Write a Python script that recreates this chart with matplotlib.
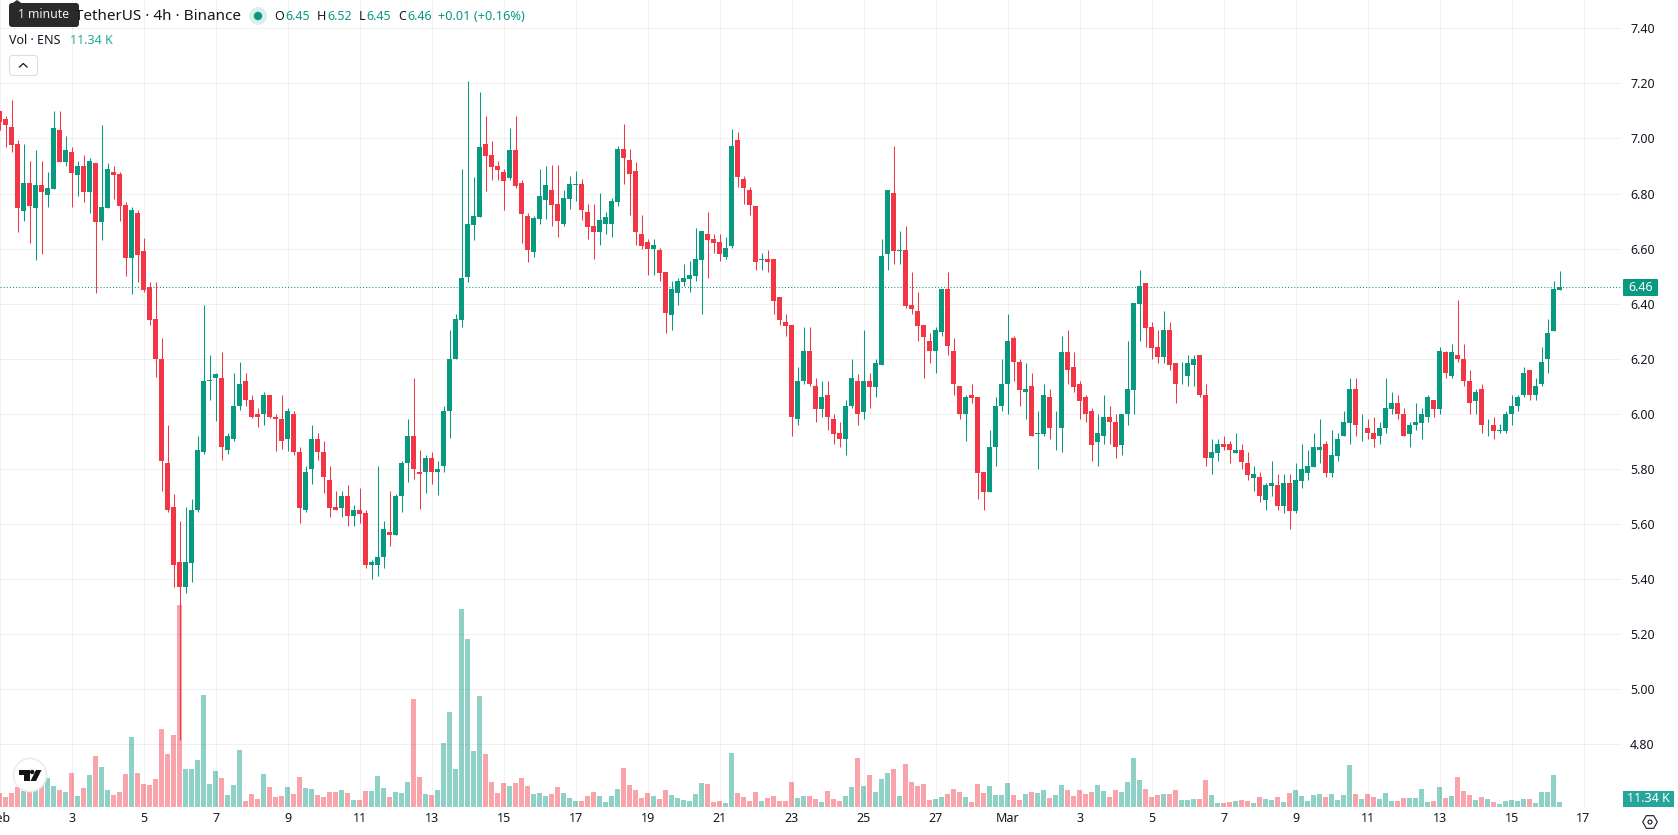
import numpy as np
import matplotlib
matplotlib.use('Agg')
import matplotlib.pyplot as plt
from matplotlib.patches import Circle, FancyBboxPatch, Polygon, Rectangle, RegularPolygon

plt.rcParams['font.family'] = ['Noto Sans', 'DejaVu Sans']

# ENS/USDT 4h candles, first bar is Feb 1 00:00
opens = [
    7.10, 7.07, 7.04, 6.98, 6.737, 6.838, 6.748, 6.83, 6.795, 6.817,
    7.03, 6.915, 6.95, 6.868, 6.90, 6.806, 6.91, 6.697, 6.748, 6.878,
    6.87, 6.758, 6.566, 6.728, 6.59, 6.462, 6.343, 6.20, 5.823, 5.663,
    5.463, 5.37, 5.46, 5.65, 5.86, 6.12, 6.13, 6.132, 5.868, 5.908,
    6.028, 6.121, 6.052, 6.00, 5.998, 6.07, 5.99, 5.983, 5.908, 6.00,
    5.863, 5.65, 5.799, 5.91, 5.863, 5.761, 5.663, 5.66, 5.703, 5.628,
    5.652, 5.641, 5.45, 5.45, 5.479, 5.572, 5.559, 5.70, 5.82, 5.921,
    5.79, 5.788, 5.841, 5.788, 5.81, 6.01, 6.199, 6.341, 6.497, 6.685,
    6.715, 6.98, 6.94, 6.90, 6.878, 6.857, 6.958, 6.838, 6.718, 6.588,
    6.708, 6.777, 6.812, 6.761, 6.688, 6.779, 6.83, 6.834, 6.732, 6.681,
    6.659, 6.688, 6.688, 6.768, 6.961, 6.921, 6.881, 6.652, 6.623, 6.598,
    6.594, 6.514, 6.358, 6.438, 6.478, 6.488, 6.499, 6.558, 6.652, 6.634,
    6.623, 6.568, 6.608, 6.994, 6.852, 6.812, 6.754, 6.558, 6.561, 6.561,
    6.423, 6.332, 6.321, 5.981, 6.118, 6.23, 6.103, 6.019, 6.07, 5.983,
    5.932, 5.907, 6.027, 6.121, 6.008, 6.121, 6.099, 6.179, 6.579, 6.801,
    6.59, 6.594, 6.394, 6.372, 6.321, 6.263, 6.227, 6.299, 6.452, 6.23,
    6.103, 5.998, 6.07, 6.063, 5.79, 5.718, 5.878, 6.027, 6.107, 6.274,
    6.19, 6.078, 6.103, 5.928, 5.928, 6.063, 5.94, 5.947, 6.223, 6.172,
    6.11, 6.063, 6.012, 5.899, 5.919, 5.99, 5.972, 5.888, 5.998, 6.088,
    6.398, 6.474, 6.314, 6.241, 6.208, 6.303, 6.183, 6.118, 6.139, 6.179,
    6.212, 6.07, 5.838, 5.859, 5.892, 5.892, 5.859, 5.87, 5.823, 5.768,
    5.772, 5.688, 5.739, 5.743, 5.667, 5.75, 5.648, 5.758, 5.787, 5.808,
    5.867, 5.892, 5.787, 5.848, 5.918, 5.968, 6.092, 5.947, 5.95, 5.932,
    5.918, 5.947, 6.019, 6.041, 6.001, 5.928, 5.958, 5.968, 5.987, 6.052,
    6.019, 6.223, 6.139, 6.212, 6.201, 6.121, 6.048, 6.092, 5.958, 5.961,
    5.939, 5.939, 5.998, 6.027, 6.067, 6.161, 6.067, 6.107, 6.198, 6.30,
    6.45,
]
highs = [
    7.10, 7.08, 7.14, 6.996, 6.98, 6.918, 6.958, 6.918, 6.878, 7.10,
    7.10, 7.008, 6.968, 6.918, 6.94, 6.93, 6.91, 7.05, 6.91, 6.90,
    6.878, 6.77, 6.75, 6.74, 6.637, 6.48, 6.48, 6.274, 5.96, 5.71,
    5.612, 5.663, 5.692, 5.92, 6.394, 6.212, 6.15, 6.223, 5.932, 6.15,
    6.19, 6.15, 6.07, 6.023, 6.08, 6.07, 6.00, 6.07, 6.023, 6.012,
    5.881, 5.812, 5.961, 5.932, 5.903, 5.812, 5.721, 5.721, 5.743, 5.67,
    5.732, 5.652, 5.47, 5.812, 5.612, 5.721, 5.71, 5.83, 5.983, 6.132,
    5.87, 5.852, 5.863, 5.83, 6.03, 6.303, 6.361, 6.888, 7.208, 6.86,
    7.168, 7.08, 6.99, 6.92, 6.888, 7.038, 7.08, 6.848, 6.728, 6.718,
    6.888, 6.90, 6.903, 6.903, 6.812, 6.863, 6.881, 6.852, 6.761, 6.761,
    6.801, 6.732, 6.783, 6.972, 7.052, 6.961, 6.914, 6.721, 6.634, 6.634,
    6.601, 6.514, 6.481, 6.492, 6.543, 6.554, 6.674, 6.663, 6.732, 6.652,
    6.652, 6.641, 7.034, 7.023, 6.863, 6.823, 6.754, 6.583, 6.594, 6.561,
    6.423, 6.361, 6.321, 6.172, 6.314, 6.314, 6.132, 6.121, 6.121, 6.001,
    5.972, 6.052, 6.201, 6.143, 6.303, 6.15, 6.201, 6.634, 6.812, 6.972,
    6.663, 6.681, 6.514, 6.441, 6.321, 6.292, 6.314, 6.452, 6.514, 6.274,
    6.103, 6.07, 6.11, 6.063, 5.79, 5.943, 6.063, 6.201, 6.361, 6.281,
    6.201, 6.183, 6.15, 6.012, 6.11, 6.092, 6.012, 6.281, 6.303, 6.223,
    6.121, 6.07, 6.023, 6.001, 6.07, 6.03, 6.001, 6.001, 6.263, 6.401,
    6.521, 6.474, 6.332, 6.303, 6.372, 6.332, 6.183, 6.19, 6.212, 6.212,
    6.212, 6.11, 5.91, 5.91, 5.921, 5.903, 5.932, 5.892, 5.863, 5.812,
    5.79, 5.75, 5.83, 5.783, 5.783, 5.783, 5.823, 5.892, 5.87, 5.932,
    5.983, 5.903, 5.943, 5.932, 6.012, 6.132, 6.132, 6.001, 5.983, 5.99,
    5.972, 6.132, 6.081, 6.07, 6.023, 5.972, 6.041, 6.023, 6.07, 6.052,
    6.241, 6.23, 6.252, 6.412, 6.252, 6.161, 6.092, 6.11, 5.983, 5.99,
    5.965, 6.012, 6.07, 6.07, 6.172, 6.161, 6.132, 6.241, 6.343, 6.481,
    6.52,
]
lows = [
    7.03, 6.97, 6.95, 6.66, 6.70, 6.62, 6.56, 6.58, 6.75, 6.817,
    6.915, 6.90, 6.75, 6.79, 6.77, 6.73, 6.44, 6.63, 6.748, 6.78,
    6.70, 6.50, 6.435, 6.48, 6.442, 6.322, 6.133, 5.72, 5.642, 5.373,
    4.816, 5.35, 5.39, 5.642, 5.853, 6.052, 5.973, 5.832, 5.853, 5.903,
    6.013, 6.03, 5.985, 5.952, 5.96, 5.985, 5.864, 5.872, 5.864, 5.852,
    5.602, 5.642, 5.744, 5.832, 5.712, 5.624, 5.65, 5.624, 5.592, 5.592,
    5.602, 5.442, 5.402, 5.413, 5.442, 5.522, 5.559, 5.642, 5.751, 5.762,
    5.653, 5.712, 5.744, 5.704, 5.79, 5.911, 6.199, 6.315, 6.48, 6.63,
    6.715, 6.81, 6.848, 6.85, 6.74, 6.848, 6.82, 6.62, 6.552, 6.57,
    6.69, 6.708, 6.682, 6.641, 6.682, 6.743, 6.772, 6.703, 6.634, 6.561,
    6.612, 6.652, 6.641, 6.754, 6.834, 6.721, 6.612, 6.60, 6.503, 6.503,
    6.481, 6.292, 6.303, 6.394, 6.463, 6.441, 6.481, 6.361, 6.492, 6.583,
    6.554, 6.561, 6.601, 6.823, 6.761, 6.721, 6.521, 6.521, 6.514, 6.361,
    6.321, 6.281, 5.921, 5.961, 6.11, 6.103, 5.972, 5.99, 5.943, 5.892,
    5.881, 5.852, 6.023, 5.961, 5.983, 6.023, 6.063, 6.179, 6.521, 6.543,
    6.543, 6.383, 6.361, 6.263, 6.132, 6.183, 6.15, 6.281, 6.212, 6.07,
    5.983, 5.903, 6.041, 5.692, 5.652, 5.718, 5.812, 6.012, 6.001, 6.121,
    6.03, 5.983, 5.918, 5.801, 5.921, 5.91, 5.87, 5.863, 6.11, 6.081,
    5.983, 5.972, 5.83, 5.812, 5.892, 5.892, 5.841, 5.852, 5.961, 6.001,
    6.263, 6.241, 6.201, 6.183, 6.183, 6.161, 6.041, 6.11, 6.103, 6.103,
    6.063, 5.812, 5.783, 5.83, 5.87, 5.823, 5.859, 5.801, 5.761, 5.721,
    5.681, 5.652, 5.703, 5.652, 5.641, 5.583, 5.641, 5.732, 5.761, 5.808,
    5.823, 5.772, 5.772, 5.83, 5.918, 5.892, 5.921, 5.903, 5.91, 5.881,
    5.892, 5.932, 6.001, 5.983, 5.918, 5.881, 5.943, 5.91, 5.972, 5.99,
    6.001, 6.132, 6.132, 6.19, 6.103, 6.001, 6.001, 5.932, 5.921, 5.91,
    5.932, 5.932, 5.961, 6.012, 6.063, 6.052, 6.052, 6.103, 6.15, 6.30,
    6.45,
]
closes = [
    7.06, 7.05, 6.977, 6.748, 6.838, 6.755, 6.83, 6.806, 6.82, 7.038,
    6.915, 6.958, 6.875, 6.90, 6.806, 6.918, 6.697, 6.75, 6.888, 6.867,
    6.755, 6.566, 6.74, 6.577, 6.45, 6.34, 6.20, 5.828, 5.65, 5.45,
    5.37, 5.463, 5.652, 5.87, 6.12, 6.122, 6.143, 5.879, 5.921, 6.03,
    6.11, 6.05, 5.988, 5.988, 6.07, 5.988, 5.98, 5.90, 6.012, 5.86,
    5.66, 5.79, 5.91, 5.861, 5.77, 5.66, 5.65, 5.703, 5.628, 5.652,
    5.638, 5.45, 5.463, 5.481, 5.583, 5.559, 5.703, 5.823, 5.921, 5.799,
    5.78, 5.841, 5.788, 5.801, 6.012, 6.201, 6.343, 6.492, 6.688, 6.718,
    6.968, 6.937, 6.897, 6.885, 6.846, 6.958, 6.828, 6.726, 6.595, 6.71,
    6.79, 6.83, 6.758, 6.70, 6.783, 6.834, 6.834, 6.739, 6.678, 6.659,
    6.703, 6.714, 6.772, 6.961, 6.928, 6.87, 6.659, 6.608, 6.598, 6.612,
    6.51, 6.368, 6.452, 6.481, 6.492, 6.503, 6.561, 6.663, 6.63, 6.619,
    6.579, 6.601, 6.972, 6.859, 6.819, 6.758, 6.55, 6.561, 6.55, 6.41,
    6.341, 6.318, 5.988, 6.121, 6.23, 6.107, 6.019, 6.063, 5.988, 5.928,
    5.907, 6.03, 6.132, 5.998, 6.121, 6.099, 6.183, 6.572, 6.812, 6.59,
    6.594, 6.39, 6.379, 6.318, 6.278, 6.227, 6.303, 6.452, 6.248, 6.107,
    5.998, 6.063, 6.059, 5.787, 5.718, 5.881, 6.03, 6.11, 6.263, 6.187,
    6.088, 6.092, 5.918, 5.932, 6.07, 5.947, 5.943, 6.223, 6.158, 6.099,
    6.048, 5.998, 5.888, 5.932, 5.99, 5.97, 5.878, 6.001, 6.092, 6.401,
    6.463, 6.31, 6.238, 6.208, 6.303, 6.179, 6.107, 6.121, 6.183, 6.201,
    6.067, 5.838, 5.863, 5.892, 5.878, 5.867, 5.87, 5.827, 5.779, 5.783,
    5.70, 5.743, 5.75, 5.667, 5.75, 5.648, 5.761, 5.801, 5.812, 5.881,
    5.881, 5.787, 5.852, 5.91, 5.972, 6.092, 5.958, 5.95, 5.932, 5.907,
    5.95, 6.023, 6.041, 5.998, 5.918, 5.961, 5.972, 6.001, 6.063, 6.019,
    6.23, 6.147, 6.223, 6.198, 6.118, 6.038, 6.081, 5.958, 5.961, 5.939,
    5.943, 6.001, 6.03, 6.063, 6.15, 6.067, 6.103, 6.19, 6.292, 6.452,
    6.46,
]
# volume in thousands of ENS
volumes = [
    31.8, 22.7, 31.8, 45.4, 36.3, 36.3, 38.6, 49.9, 65.8, 47.6,
    38.6, 34.0, 77.1, 24.9, 43.1, 72.6, 115.7, 90.7, 38.6, 27.2,
    34.0, 74.8, 158.8, 77.1, 52.2, 49.9, 63.5, 176.9, 120.2, 163.3,
    458.0, 86.2, 86.2, 106.6, 254.0, 52.2, 81.6, 65.8, 27.2, 49.9,
    129.3, 13.6, 29.5, 18.1, 74.8, 45.4, 22.7, 24.9, 45.4, 29.5,
    68.0, 43.1, 40.8, 27.2, 22.7, 34.0, 34.0, 38.6, 31.8, 15.9,
    15.9, 36.3, 36.3, 70.3, 43.1, 22.7, 34.0, 31.8, 56.7, 244.9,
    68.0, 29.5, 27.2, 38.6, 145.2, 215.5, 86.2, 449.0, 381.0, 127.0,
    251.7, 120.2, 56.7, 31.8, 54.4, 47.6, 54.4, 65.8, 47.6, 29.5,
    31.8, 24.9, 29.5, 45.4, 31.8, 20.4, 13.6, 13.6, 24.9, 34.0,
    24.9, 11.3, 24.9, 40.8, 88.5, 49.9, 38.6, 20.4, 31.8, 24.9,
    18.1, 38.6, 27.2, 20.4, 15.9, 13.6, 29.5, 54.4, 52.2, 11.3,
    13.6, 9.1, 122.5, 31.8, 22.7, 13.6, 34.0, 13.6, 20.4, 24.9,
    13.6, 13.6, 56.7, 20.4, 24.9, 24.9, 18.1, 11.3, 36.3, 18.1,
    13.6, 24.9, 45.4, 111.1, 47.6, 72.6, 34.0, 63.5, 77.1, 86.2,
    24.9, 97.5, 56.7, 47.6, 52.2, 15.9, 18.1, 22.7, 29.5, 40.8,
    34.0, 22.7, 11.3, 52.2, 31.8, 47.6, 27.2, 27.2, 54.4, 27.2,
    15.9, 29.5, 34.0, 31.8, 38.6, 20.4, 27.2, 49.9, 38.6, 24.9,
    38.6, 29.5, 34.0, 49.9, 36.3, 22.7, 38.6, 34.0, 56.7, 111.1,
    61.2, 40.8, 22.7, 27.2, 29.5, 29.5, 38.6, 15.9, 15.9, 18.1,
    18.1, 61.2, 27.2, 9.1, 9.1, 11.3, 13.6, 15.9, 13.6, 9.1,
    22.7, 18.1, 15.9, 22.7, 11.3, 31.8, 38.6, 24.9, 13.6, 27.2,
    29.5, 22.7, 29.5, 15.9, 27.2, 95.3, 29.5, 18.1, 29.5, 22.7,
    18.1, 31.8, 13.6, 13.6, 20.4, 20.4, 20.4, 40.8, 11.3, 13.6,
    45.4, 20.4, 24.9, 68.0, 36.3, 27.2, 15.9, 22.7, 18.1, 11.3,
    6.8, 13.6, 15.9, 13.6, 18.1, 18.1, 9.1, 34.0, 34.0, 72.6,
    11.34,
]
price_ticks = [7.40, 7.20, 7.00, 6.80, 6.60, 6.40, 6.20, 6.00, 5.80, 5.60, 5.40, 5.20, 5.00, 4.80]
day_labels = ['Feb', '3', '5', '7', '9', '11', '13', '15', '17', '19', '21', '23', '25', '27',
              'Mar', '3', '5', '7', '9', '11', '13', '15', '17']
last_price = 6.46

UP = '#089981'
DOWN = '#F23645'
TEXT = '#131722'
W, H = 1678, 835
BAR_WIDTH = 5 / 6  # 5px body in a 6px slot

opens, highs, lows, closes = map(np.array, (opens, highs, lows, closes))
idx = np.arange(len(closes))
up = closes >= opens
colors = np.where(up, UP, DOWN)

fig = plt.figure(figsize=(W / 100, H / 100), dpi=100, facecolor='white')
ax = fig.add_axes([0, (H - 807) / H, 1621 / W, 807 / H])
vol_ax = ax.twinx()
ax.set_zorder(vol_ax.get_zorder() + 1)
ax.patch.set_visible(False)

# volume sits underneath the candles
vol_ax.bar(idx, volumes, width=BAR_WIDTH, color=colors, alpha=0.45, linewidth=0)
vol_ax.set_ylim(0, 807 / 0.441)
vol_ax.axis('off')

ax.vlines(idx, lows, highs, colors=colors, linewidth=0.75, zorder=3)
ax.bar(idx, np.abs(closes - opens), bottom=np.minimum(opens, closes), width=BAR_WIDTH,
       color=colors, linewidth=0, zorder=4)
ax.axhline(last_price, color=UP, linewidth=0.75, linestyle=(0, (1, 2)), zorder=2)

# each bar centre falls on a pixel centre
ax.set_xlim(0.5 / 6, 1621.5 / 6)
ax.set_ylim(4.5725, 7.5028)
ax.set_yticks(price_ticks, ['%.2f' % p for p in price_ticks])
ax.yaxis.tick_right()
ax.set_xticks(np.arange(len(day_labels)) * 12, day_labels)
ax.tick_params(axis='both', length=0, labelsize=9, labelcolor=TEXT)
ax.tick_params(axis='y', pad=6.5)
ax.tick_params(axis='x', pad=3.5)
for lab in ax.get_xticklabels():
    if lab.get_text() in ('Feb', 'Mar'):
        lab.set_fontweight('bold')
ax.grid(True, color='black', alpha=0.055, linewidth=0.75)
ax.set_axisbelow(True)
for s in ax.spines.values():
    s.set_visible(False)

# overlay in pixel coordinates for the chart's header and badges
ov = fig.add_axes([0, 0, 1, 1], zorder=10)
ov.set_xlim(0, W)
ov.set_ylim(H, 0)
ov.axis('off')

ov.text(75, 16, 'TetherUS · 4h · Binance', fontsize=11, color=TEXT, va='center')
ov.add_patch(Circle((258, 16), 9, color='#d9f0ec', lw=0))
ov.add_patch(Circle((258, 16), 4.2, color=UP, lw=0))

ohlc_x = [(274, 'O', 285.5, '6.45'), (317, 'H', 327.5, '6.52'), (358.5, 'L', 366.5, '6.45'), (398, 'C', 407.5, '6.46')]
for lx, name, vx, val in ohlc_x:
    ov.text(lx, 16, name, fontsize=9, color=TEXT, va='center')
    ov.text(vx, 16, val, fontsize=9, color=UP, va='center')
ov.text(438, 16, '+0.01 (+0.16%)', fontsize=9.2, color=UP, va='center')

ov.text(9, 41, 'Vol · ENS', fontsize=9, color=TEXT, va='center')
ov.text(70, 41, '11.34 K', fontsize=9, color='#22AB94', va='center')

ov.add_patch(FancyBboxPatch((9.5, 55.5), 28, 20, boxstyle='round,pad=0,rounding_size=3',
                            fc='white', ec='#dcdee2', lw=0.75))
ov.plot([19.5, 23.3, 27], [67, 63.5, 67], color=TEXT, lw=0.9)

# tooltip covers the start of the symbol title
ov.add_patch(FancyBboxPatch((9, 3), 70, 24, boxstyle='round,pad=0,rounding_size=3', fc='#2a2a2a', ec='none'))
ov.add_patch(Polygon([(12, 3.5), (17, 0), (22, 3.5)], fc='#2a2a2a', ec='none'))
ov.text(44, 15, '1 minute', fontsize=8.8, color='#eeeeee', ha='center', va='center')

# last price and last volume badges
ov.add_patch(FancyBboxPatch((1623, 279), 35, 17, boxstyle='round,pad=0,rounding_size=1', fc=UP, ec='none'))
ov.text(1640.5, 287.5, '%.2f' % last_price, fontsize=9, color='white', ha='center', va='center')
ov.add_patch(Rectangle((1623, 791), 51, 16, fc='#26A69A', ec='none'))
ov.text(1648.5, 799, '11.34 K', fontsize=9, color='white', ha='center', va='center')

# settings icon
ov.add_patch(RegularPolygon((1650, 822), 6, radius=7.3, orientation=np.pi / 6, fc='white', ec=TEXT, lw=0.8))
ov.add_patch(Circle((1650, 822), 2, fc='white', ec=TEXT, lw=0.8))

# logo badge
ov.add_patch(Circle((30, 775), 16.5, fc='white', ec='#ececec', lw=1.2))
ov.add_patch(Polygon([(19, 770), (29.5, 770), (29.5, 781), (24, 781), (24, 774.5), (19, 774.5)], fc='#131313', ec='none'))
ov.add_patch(Circle((32.2, 772), 2.2, fc='#131313', ec='none'))
ov.add_patch(Polygon([(36, 770), (41.5, 770), (36, 781), (30.5, 781)], fc='#131313', ec='none'))

fig.savefig('out.png', dpi=100, facecolor='white')
